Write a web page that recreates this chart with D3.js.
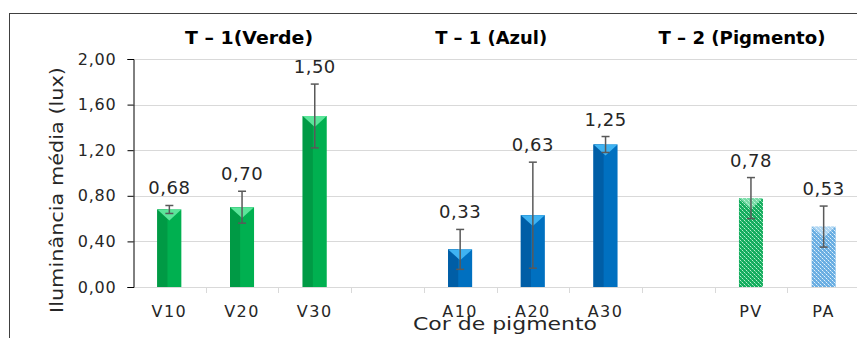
<!DOCTYPE html>
<html>
<head>
<meta charset="utf-8">
<script src="https://cdn.jsdelivr.net/npm/d3@7"></script>
<style>
  body { margin: 0; background: #fff; }
  text { font-family: "DejaVu Sans", "Noto Sans", sans-serif; }
</style>
</head>
<body>
<div id="chart"></div>
<script>
// categories (blank slots are the gaps between groups)
const slots = ["V10", "V20", "V30", "gap1", "A10", "A20", "A30", "gap2", "PV", "PA"];
const tickLabels = ["V10", "V20", "V30", "", "A10", "A20", "A30", "", "PV", "PA"];
const values = [0.68, 0.70, 1.50, null, 0.33, 0.63, 1.25, null, 0.78, 0.53];
const errors = [0.035, 0.14, 0.28, null, 0.175, 0.465, 0.07, null, 0.18, 0.18];
const fills = ["green", "green", "green", null, "blue", "blue", "blue", null, "patGreen", "patBlue"];
const yTicks = [0, 0.4, 0.8, 1.2, 1.6, 2.0];
const groupTitles = ["T – 1(Verde)", "T – 1 (Azul)", "T – 2 (Pigmento)"];

const W = 857, H = 338;
const margin = { left: 133, top: 59, right: -3, bottom: 51 };

const svg = d3.select("#chart").append("svg")
  .attr("width", W).attr("height", H);

const defs = svg.append("defs");
function pattern(id, bg, fg) {
  const p = defs.append("pattern").attr("id", id)
    .attr("patternUnits", "userSpaceOnUse").attr("width", 4).attr("height", 4);
  p.append("rect").attr("width", 4).attr("height", 4).attr("fill", bg);
  p.append("rect").attr("x", 0).attr("y", 0).attr("width", 1).attr("height", 1).attr("fill", fg);
  p.append("rect").attr("x", 2).attr("y", 2).attr("width", 1).attr("height", 1).attr("fill", fg);
  p.append("rect").attr("x", 1).attr("y", 1).attr("width", 1).attr("height", 1).attr("fill", fg).attr("opacity", 0.5);
  p.append("rect").attr("x", 3).attr("y", 3).attr("width", 1).attr("height", 1).attr("fill", fg).attr("opacity", 0.5);
}
pattern("patGreen", "#14ad5e", "#b8f0cf");
pattern("patBlue", "#6aaee2", "#e3f2fc");

const colors = {
  green: { main: "#00b050", dark: "#009a45", top: "#5be59a" },
  blue: { main: "#0070c0", dark: "#005ea6", top: "#3fb3f2" },
  patGreen: { main: "url(#patGreen)", dark: null, top: "rgba(200,255,225,0.55)" },
  patBlue: { main: "url(#patBlue)", dark: null, top: "rgba(230,245,255,0.55)" }
};

// frame
svg.append("rect")
  .attr("x", 9.5).attr("y", 13.5).attr("width", 870).attr("height", 340)
  .attr("fill", "none").attr("stroke", "#404040").attr("stroke-width", 1);

const x = d3.scaleBand()
  .domain(slots)
  .range([margin.left, W - margin.right])
  .paddingInner(0.67)
  .paddingOuter(0.335);

const y = d3.scaleLinear()
  .domain([0, 2])
  .range([H - margin.bottom, margin.top]);

// gridlines
svg.append("g")
  .selectAll("line")
  .data(yTicks.filter(d => d > 0))
  .join("line")
  .attr("x1", margin.left).attr("x2", W)
  .attr("y1", d => Math.round(y(d)) + 0.5).attr("y2", d => Math.round(y(d)) + 0.5)
  .attr("stroke", "#d9d9d9");

// x axis line + ticks between categories
const step = x.step();
const x0 = margin.left;
const xAxis = svg.append("g");
xAxis.append("line")
  .attr("x1", x0).attr("x2", W)
  .attr("y1", Math.round(y(0)) + 0.5).attr("y2", Math.round(y(0)) + 0.5)
  .attr("stroke", "#d9d9d9");
xAxis.selectAll("line.tk")
  .data(d3.range(1, slots.length + 1))
  .join("line").attr("class", "tk")
  .attr("x1", i => Math.round(x0 + i * step) + 0.5)
  .attr("x2", i => Math.round(x0 + i * step) + 0.5)
  .attr("y1", y(0)).attr("y2", y(0) + 6)
  .attr("stroke", "#d9d9d9");
xAxis.selectAll("text")
  .data(slots)
  .join("text")
  .attr("x", d => x(d) + x.bandwidth() / 2)
  .attr("y", y(0) + 29.5)
  .attr("text-anchor", "middle")
  .style("font-size", "16px")
  .style("letter-spacing", "1.5px")
  .attr("fill", "#262626")
  .text((d, i) => tickLabels[i]);

// y axis
const yAxis = svg.append("g")
  .attr("transform", `translate(${margin.left + 0.5},0)`)
  .call(d3.axisLeft(y).tickValues(yTicks).tickSize(6).tickPadding(11)
    .tickFormat(d => d3.format(".2f")(d).replace(".", ",")));
yAxis.select(".domain").attr("stroke", "#000");
yAxis.selectAll(".tick line").attr("stroke", "#000");
yAxis.selectAll(".tick text")
  .style("font-size", "16px")
  .style("letter-spacing", "0.8px")
  .style("font-family", "'DejaVu Sans', 'Noto Sans', sans-serif")
  .attr("fill", "#262626");

// bars
const bars = svg.append("g");
const bw = x.bandwidth();
slots.forEach((s, i) => {
  if (values[i] == null) return;
  const c = colors[fills[i]];
  const bx = x(s), by = y(values[i]), bh = y(0) - by;
  bars.append("rect")
    .attr("x", bx).attr("y", by).attr("width", bw).attr("height", bh)
    .attr("fill", c.main);
  if (c.dark) {
    bars.append("rect")
      .attr("x", bx).attr("y", by).attr("width", bw * 0.42).attr("height", bh)
      .attr("fill", c.dark);
    bars.append("rect")
      .attr("x", bx).attr("y", by).attr("width", 2).attr("height", bh)
      .attr("fill", c.dark).attr("opacity", 0.8);
  }
  bars.append("path")
    .attr("d", `M${bx},${by}L${bx + bw},${by}L${bx + bw / 2},${by + bw / 2.2}Z`)
    .attr("fill", c.top);
});

// error bars
const err = svg.append("g").attr("stroke", "#595959").attr("stroke-width", 1.5);
slots.forEach((s, i) => {
  if (values[i] == null) return;
  const cx = x(s) + bw / 2;
  const yt = y(values[i] + errors[i]), yb = y(values[i] - errors[i]);
  err.append("line").attr("x1", cx).attr("x2", cx).attr("y1", yt).attr("y2", yb);
  err.append("line").attr("x1", cx - 4).attr("x2", cx + 4).attr("y1", yt).attr("y2", yt);
  err.append("line").attr("x1", cx - 4).attr("x2", cx + 4).attr("y1", yb).attr("y2", yb);
});

// data labels
svg.append("g").selectAll("text")
  .data(slots.filter((s, i) => values[i] != null))
  .join("text")
  .attr("x", s => x(s) + bw / 2)
  .attr("y", s => { const i = slots.indexOf(s); return y(values[i] + errors[i]) - 11; })
  .attr("text-anchor", "middle")
  .style("font-size", "18px")
  .style("letter-spacing", "0.5px")
  .attr("fill", "#262626")
  .text(s => { const i = slots.indexOf(s); return d3.format(".2f")(values[i]).replace(".", ","); });

// group titles
const titleX = [x("V20") + bw / 2 + 7, x("A10") + 43, x("PV") + bw / 2 - 9];
const titleW = [128, 112, 167];
svg.append("g").selectAll("text")
  .data(groupTitles)
  .join("text")
  .attr("x", (d, i) => titleX[i])
  .attr("y", 44)
  .attr("text-anchor", "middle")
  .attr("textLength", (d, i) => titleW[i])
  .attr("lengthAdjust", "spacingAndGlyphs")
  .style("font-size", "18px")
  .style("font-weight", "bold")
  .attr("fill", "#000")
  .text(d => d);

// axis titles
svg.append("text")
  .attr("transform", `translate(63,190) rotate(-90)`)
  .attr("text-anchor", "middle")
  .attr("textLength", 246)
  .attr("lengthAdjust", "spacingAndGlyphs")
  .style("font-size", "18px")
  .attr("fill", "#262626")
  .text("Iluminância média (lux)");

svg.append("text")
  .attr("x", 505).attr("y", 329.5)
  .attr("text-anchor", "middle")
  .attr("textLength", 184)
  .attr("lengthAdjust", "spacingAndGlyphs")
  .style("font-size", "17px")
  .attr("fill", "#262626")
  .text("Cor de pigmento");
</script>
</body>
</html>
